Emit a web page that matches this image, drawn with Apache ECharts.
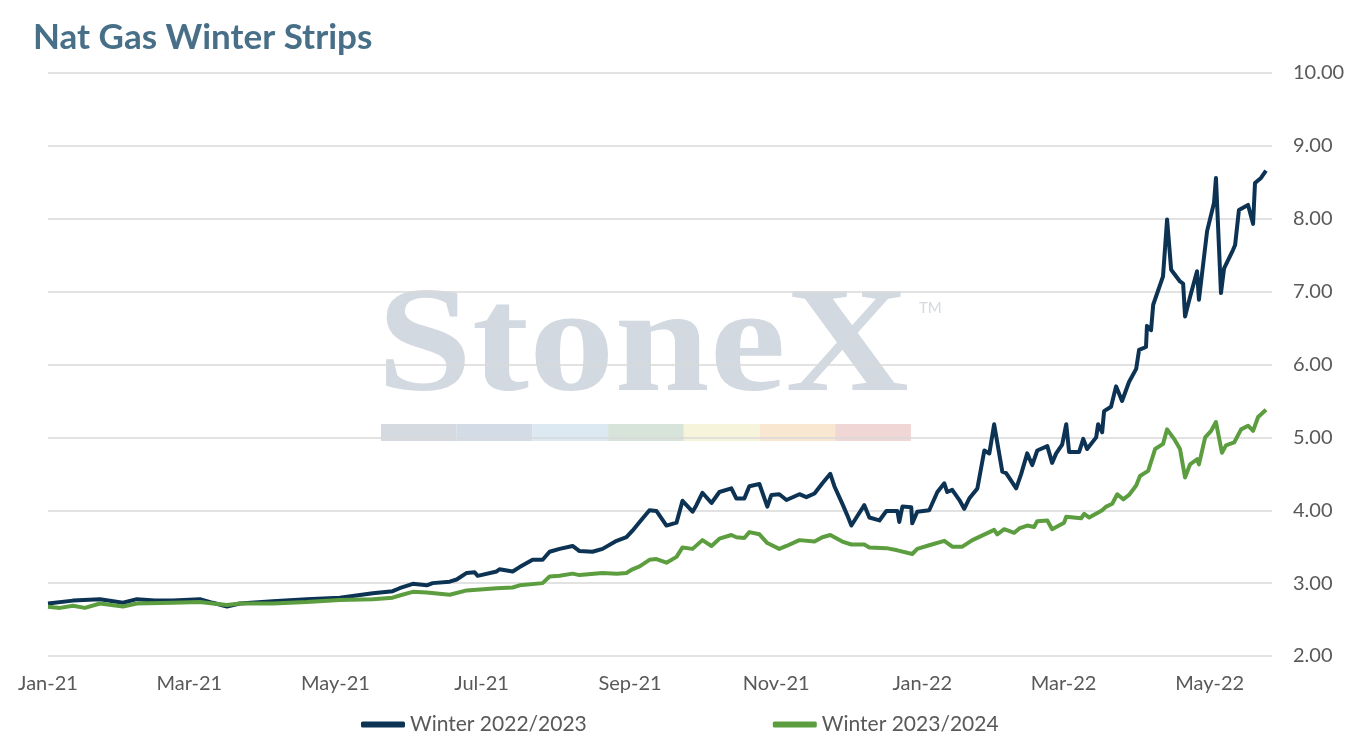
<!DOCTYPE html>
<html>
<head>
<meta charset="utf-8">
<script src="https://cdn.jsdelivr.net/npm/echarts@6/dist/echarts.min.js"></script>
<style>
html,body{margin:0;padding:0;background:#fff;}
#chart{width:1350px;height:743px;}
</style>
</head>
<body>
<div id="chart"></div>
<script>
// x values: days since 2021-01-01
var navyDays = [0,10.4,21.7,31.3,37.1,44.6,52.1,63.4,68.8,74.7,80.1,93.9,108.0,121.8,135.6,143.9,146.8,152.3,158.1,160.6,167.7,170.6,174.8,178.1,179.4,187.3,188.5,194.0,196.9,202.3,206.5,209.4,213.6,219.0,221.9,227.3,231.5,237.4,241.5,244.0,247.0,251.1,254.0,258.2,262.4,264.9,269.1,270.7,273.2,277.0,280.3,285.3,287.4,290.7,292.8,297.0,300.3,302.0,305.3,308.3,313.7,316.6,320.0,323.3,326.6,328.3,331.6,333.7,335.4,337.5,340.8,342.9,347.1,350.0,354.6,355.4,356.7,360.4,360.8,362.9,367.9,371.3,374.2,375.4,377.5,380.5,382.5,384.6,388.0,390.9,393.0,395.0,398.4,400.0,404.2,406.3,408.8,410.9,413.0,417.2,419.2,420.9,423.4,425.1,426.3,430.5,432.2,433.8,437.6,438.4,440.1,440.9,443.8,445.9,448.4,451.3,454.3,455.5,458.4,458.8,460.5,461.4,465.5,467.2,468.9,472.6,473.9,474.7,476.8,479.7,480.5,483.9,486.8,487.6,489.7,491.0,494.7,495.6,497.2,501.0,503.1,503.9,506.4,508.5];
var navyValues = [2.72,2.76,2.78,2.73,2.78,2.76,2.76,2.78,2.73,2.68,2.72,2.75,2.78,2.80,2.86,2.89,2.93,2.99,2.97,3.00,3.02,3.05,3.14,3.15,3.10,3.16,3.19,3.16,3.22,3.32,3.32,3.43,3.47,3.51,3.44,3.43,3.47,3.58,3.63,3.72,3.84,4.00,3.99,3.79,3.83,4.13,3.98,4.07,4.24,4.10,4.25,4.30,4.16,4.16,4.33,4.36,4.05,4.21,4.22,4.14,4.22,4.18,4.23,4.37,4.50,4.33,4.09,3.93,3.79,3.90,4.07,3.90,3.86,3.99,3.99,3.84,4.05,4.04,3.82,3.98,4.00,4.25,4.37,4.25,4.28,4.14,4.02,4.16,4.30,4.82,4.78,5.18,4.53,4.51,4.30,4.50,4.78,4.62,4.82,4.88,4.65,4.78,4.90,5.18,4.80,4.80,4.98,4.84,5.00,5.18,5.07,5.36,5.42,5.70,5.50,5.76,5.94,6.20,6.24,6.53,6.47,6.82,7.21,7.99,7.30,7.14,7.11,6.66,6.93,7.28,6.89,7.83,8.22,8.56,6.98,7.32,7.57,7.64,8.12,8.19,7.93,8.49,8.56,8.66];

var greenDays = [0,5.0,10.4,15.4,21.7,31.3,37.1,52.1,63.4,68.8,74.7,80.1,93.9,108.0,121.8,135.6,143.9,146.8,152.3,158.1,167.7,174.8,187.3,194.0,196.9,206.5,209.4,213.6,219.0,221.9,231.5,237.4,241.5,244.0,247.0,251.1,254.0,258.2,262.4,264.9,269.1,273.2,277.0,280.3,285.3,287.4,290.7,292.8,297.0,300.3,305.3,308.3,313.7,320.0,323.3,326.6,331.6,335.4,340.8,342.9,350.0,354.6,360.8,362.9,367.9,374.2,377.5,381.7,385.9,391.7,395.0,396.3,399.2,403.4,405.5,408.8,411.7,413.0,417.2,419.2,424.2,425.1,431.3,432.6,434.7,440.1,441.8,444.3,446.4,448.9,451.3,454.3,455.9,459.3,462.2,465.5,467.2,470.1,472.6,474.7,476.8,479.7,480.5,483.1,485.6,487.6,490.1,491.8,495.2,498.1,501.0,503.1,505.2,508.5];
var greenValues = [2.675,2.66,2.69,2.66,2.72,2.68,2.72,2.73,2.74,2.72,2.70,2.72,2.72,2.74,2.77,2.78,2.80,2.83,2.88,2.87,2.84,2.90,2.93,2.94,2.97,3.00,3.09,3.10,3.13,3.11,3.14,3.13,3.14,3.19,3.23,3.32,3.33,3.28,3.36,3.49,3.47,3.59,3.51,3.61,3.66,3.63,3.62,3.70,3.67,3.55,3.47,3.51,3.59,3.57,3.63,3.66,3.57,3.53,3.53,3.49,3.48,3.45,3.40,3.47,3.52,3.58,3.50,3.50,3.59,3.68,3.73,3.67,3.74,3.69,3.75,3.79,3.77,3.85,3.86,3.74,3.83,3.91,3.89,3.95,3.90,4.00,4.05,4.09,4.22,4.15,4.21,4.34,4.47,4.54,4.84,4.91,5.11,4.98,4.84,4.45,4.63,4.70,4.63,5.00,5.09,5.21,4.79,4.89,4.93,5.11,5.16,5.09,5.28,5.38];

var tickDays = [0,59,120,181,243,304,365,424,485];
var tickLabels = ['Jan-21','Mar-21','May-21','Jul-21','Sep-21','Nov-21','Jan-22','Mar-22','May-22'];
var seriesNames = ['Winter 2022/2023','Winter 2023/2024'];

function zip(xs, ys){ return xs.map(function(x,i){ return [x, ys[i]]; }); }

var chart = echarts.init(document.getElementById('chart'), null, {renderer:'canvas'});
var labelFont = 'Lato, "Open Sans", sans-serif';
var wmColors = ['#d5dae0','#d3dce6','#dce8f2','#d6e4da','#f7f4dc','#f9e7d2','#f1d6d6'];
var wmBars = wmColors.map(function(c,i){
  return {type:'rect', z:-10, silent:true, shape:{x:381+i*75.7, y:424, width:75.7, height:17}, style:{fill:c}};
});

chart.setOption({
  animation:false,
  backgroundColor:'#ffffff',
  title:{
    text:'Nat Gas Winter Strips', left:28, top:15,
    textStyle:{fontFamily:labelFont, fontWeight:'bold', fontSize:35, color:'#486f88'}
  },
  graphic: [
    {type:'text', z:-10, silent:true, left:377, top:276, scaleX:1.14,
     style:{text:'StoneX', font:'bold 150px "Liberation Serif", "DejaVu Serif", serif', fill:'#d3d9e0'}},
    {type:'text', z:-10, silent:true, left:919, top:301,
     style:{text:'TM', font:'15px Lato, sans-serif', fill:'#d3d9e0'}}
  ].concat(wmBars),
  legend:{
    left:356, top:709, itemWidth:44, itemHeight:6, itemGap:186,
    icon:'roundRect',
    textStyle:{fontFamily:labelFont, fontSize:21, color:'#595959'},
    data:seriesNames
  },
  grid:{left:48, right:78, top:73, bottom:87, containLabel:false},
  xAxis:{
    type:'value', min:0, max:511,
    axisLine:{show:false}, axisTick:{show:false}, splitLine:{show:false},
    axisLabel:{
      customValues: tickDays, margin:18,
      fontFamily:labelFont, fontSize:20, color:'#595959',
      formatter:function(v){ var i = tickDays.indexOf(v); return i>=0 ? tickLabels[i] : ''; }
    }
  },
  yAxis:{
    type:'value', position:'right', min:2, max:10, interval:1,
    axisLine:{show:false}, axisTick:{show:false},
    splitLine:{lineStyle:{color:'#d9d9d9', width:1.5}},
    axisLabel:{margin:21, align:'left', fontFamily:labelFont, fontSize:20, color:'#595959',
      formatter:function(v){ return v.toFixed(2); }}
  },
  series:[
    {name:seriesNames[0], type:'line', data:zip(navyDays, navyValues), showSymbol:false,
     color:'#0d3354', lineStyle:{width:4, color:'#0d3354', join:'round'}},
    {name:seriesNames[1], type:'line', data:zip(greenDays, greenValues), showSymbol:false,
     color:'#5c9e3f', lineStyle:{width:4, color:'#5c9e3f', join:'round'}}
  ]
});
</script>
</body>
</html>
